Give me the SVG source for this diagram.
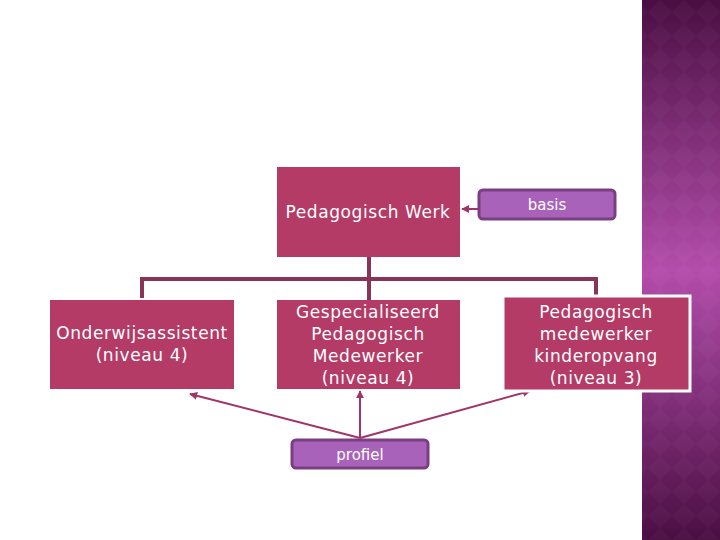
<svg xmlns="http://www.w3.org/2000/svg" width="720" height="540" viewBox="0 0 720 540">
<defs>
<style>
.box{fill:#B33B65;}
.tag{fill:#A862B9;stroke:#7A3F82;stroke-width:3;}
.t{font-family:"DejaVu Sans",sans-serif;font-size:17px;letter-spacing:0.6px;fill:#ffffff;text-anchor:middle;}
.ts{font-family:"DejaVu Sans",sans-serif;font-size:15px;fill:#ffffff;text-anchor:middle;}
.tree{stroke:#8A3358;stroke-width:4;fill:none;}
.arr{stroke:#A13468;stroke-width:2;fill:none;marker-end:url(#ah);}
</style>
<marker id="ah" viewBox="0 0 10 10" refX="9" refY="5" markerWidth="4" markerHeight="4" orient="auto">
<path d="M0,0 L10,5 L0,10 z" fill="#A13468"/>
</marker>
<linearGradient id="pg" x1="0" y1="0" x2="0" y2="1">
<stop offset="0" stop-color="#4A0E42"/>
<stop offset="0.5" stop-color="#B34DAB"/>
<stop offset="1" stop-color="#4A0E42"/>
</linearGradient>
<pattern id="dia" width="24" height="24" patternUnits="userSpaceOnUse">
<path d="M12,0 L24,12 L12,24 L0,12 z" fill="#ffffff" fill-opacity="0.025"/>
</pattern>
</defs>
<rect width="720" height="540" fill="#ffffff"/>
<g id="panel">
<rect x="642" y="0" width="78" height="540" fill="url(#pg)"/>
<rect x="642" y="0" width="78" height="540" fill="url(#dia)"/>
</g>
<g id="connectors">
<path class="tree" d="M369,257 V300 M142,298 V279 H596 V298"/>
<line class="arr" x1="478" y1="209" x2="462" y2="209"/>
<line class="arr" x1="360" y1="438" x2="190" y2="394"/>
<line class="arr" x1="360" y1="438" x2="360" y2="391"/>
<line class="arr" x1="360" y1="438" x2="530" y2="391"/>
</g>
<g id="pedagogisch-werk">
<rect class="box" x="277" y="167" width="183" height="90"/>
<text class="t" x="368" y="218">Pedagogisch Werk</text>
</g>
<g id="basis">
<rect class="tag" x="479" y="190" width="136" height="29" rx="4"/>
<text class="ts" x="547" y="210">basis</text>
</g>
<g id="onderwijsassistent">
<rect class="box" x="50" y="300" width="184" height="89"/>
<text class="t" x="142" y="339">Onderwijsassistent</text>
<text class="t" x="142" y="361">(niveau 4)</text>
</g>
<g id="gespecialiseerd">
<rect class="box" x="277" y="300" width="183" height="89"/>
<text class="t" x="368" y="318">Gespecialiseerd</text>
<text class="t" x="368" y="340">Pedagogisch</text>
<text class="t" x="368" y="362">Medewerker</text>
<text class="t" x="368" y="384">(niveau 4)</text>
</g>
<g id="kinderopvang">
<rect class="box" x="503" y="296" width="187" height="95" stroke="#ffffff" stroke-width="3"/>
<text class="t" x="596" y="318">Pedagogisch</text>
<text class="t" x="596" y="340">medewerker</text>
<text class="t" x="596" y="362">kinderopvang</text>
<text class="t" x="596" y="384">(niveau 3)</text>
</g>
<g id="profiel">
<rect class="tag" x="292" y="440" width="136" height="28" rx="4"/>
<text class="ts" x="360" y="460">profiel</text>
</g>
</svg>
